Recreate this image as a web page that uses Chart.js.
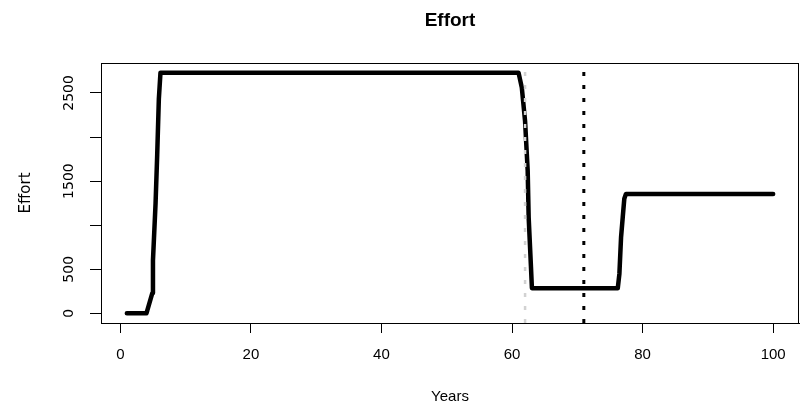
<!DOCTYPE html>
<html>
<head>
<meta charset="utf-8">
<script src="https://cdn.jsdelivr.net/npm/chart.js@4/dist/chart.umd.min.js"></script>
<style>
  html, body { margin: 0; padding: 0; background: #fff; }
  canvas { display: block; }
</style>
</head>
<body>
<canvas id="chart" width="801" height="409"></canvas>
<script>
const chartTitle = 'Effort';
const xTitle = 'Years';
const yTitle = 'Effort';

// effort path (years may be fractional)
const effortYears = [1, 4, 4.9, 5, 5.4, 5.65, 5.9, 6.15, 61, 61.5, 62, 62.4, 62.55, 62.9, 63.05, 76.2, 76.45, 76.7, 76.96, 77.2, 77.45, 100];
const effortValues = [0, 0, 230, 600, 1250, 1800, 2430, 2730, 2730, 2560, 2180, 1620, 1090, 530, 285, 285, 450, 860, 1090, 1300, 1355, 1355];

const greyLineYear = 62;
const blackLineYear = 71;

const xTicks = [0, 20, 40, 60, 80, 100];
const yTicks = [0, 500, 1000, 1500, 2000, 2500];
const yTickLabels = ['0', '500', '', '1500', '', '2500'];

// axis limits like R's 4% padding
const xMin = -2.96, xMax = 103.96;
const yMin = -109.2, yMax = 2839.2;

const sans = "'Liberation Sans', Arial, sans-serif";
const wide = "'DejaVu Sans', sans-serif";

function vline(year) {
  return [{ x: year, y: yMin }, { x: year, y: yMax }];
}

const boxPlugin = {
  id: 'box',
  afterDraw(chart) {
    const { ctx, chartArea: a } = chart;
    ctx.save();
    ctx.strokeStyle = '#000';
    ctx.lineWidth = 1;
    ctx.strokeRect(a.left + 0.5, a.top + 0.5, a.right - a.left - 1, a.bottom - a.top);
    ctx.fillStyle = '#000';
    ctx.font = 'bold 19px ' + sans;
    ctx.textAlign = 'center';
    ctx.textBaseline = 'middle';
    ctx.fillText(chartTitle, (a.left + a.right) / 2, 21);
    ctx.restore();
  }
};

new Chart(document.getElementById('chart'), {
  type: 'line',
  data: {
    datasets: [
      {
        data: vline(greyLineYear),
        borderColor: '#d2d2d2',
        borderWidth: 2.5,
        borderDash: [4, 9],
        pointRadius: 0
      },
      {
        data: vline(blackLineYear),
        borderColor: '#000',
        borderWidth: 3,
        borderDash: [4, 9],
        pointRadius: 0
      },
      {
        data: effortYears.map((x, i) => ({ x, y: effortValues[i] })),
        borderColor: '#000',
        borderWidth: 4.5,
        borderJoinStyle: 'round',
        borderCapStyle: 'round',
        pointRadius: 0,
        tension: 0
      }
    ]
  },
  options: {
    responsive: false,
    animation: false,
    layout: { padding: { top: 63, right: 2, left: 0, bottom: 0 } },
    plugins: {
      legend: { display: false },
      tooltip: { enabled: false }
    },
    scales: {
      x: {
        type: 'linear',
        min: xMin,
        max: xMax,
        afterBuildTicks: s => { s.ticks = xTicks.map(v => ({ value: v })); },
        afterFit: s => { s.height = 86; },
        grid: { drawOnChartArea: false, drawTicks: true, tickLength: 10, tickColor: '#000' },
        border: { display: true, color: '#000' },
        ticks: {
          color: '#000',
          font: { family: sans, size: 15 },
          padding: 13,
          maxRotation: 0,
          autoSkip: false
        },
        title: {
          display: true,
          text: xTitle,
          color: '#000',
          font: { family: sans, size: 15 },
          padding: { top: 0, bottom: 3 }
        }
      },
      y: {
        type: 'linear',
        min: yMin,
        max: yMax,
        afterBuildTicks: s => { s.ticks = yTicks.map(v => ({ value: v })); },
        afterFit: s => { s.width = 101; },
        grid: { drawOnChartArea: false, drawTicks: true, tickLength: 11, tickColor: '#000' },
        border: { display: true, color: '#000' },
        ticks: {
          color: '#000',
          font: { family: wide, size: 14 },
          minRotation: 90,
          maxRotation: 90,
          crossAlign: 'center',
          padding: 3,
          autoSkip: false,
          callback: (v, i) => yTickLabels[i]
        },
        title: {
          display: true,
          text: yTitle,
          color: '#000',
          font: { family: wide, size: 15 },
          padding: { top: 17, bottom: 0 }
        }
      }
    }
  },
  plugins: [boxPlugin]
});
</script>
</body>
</html>
